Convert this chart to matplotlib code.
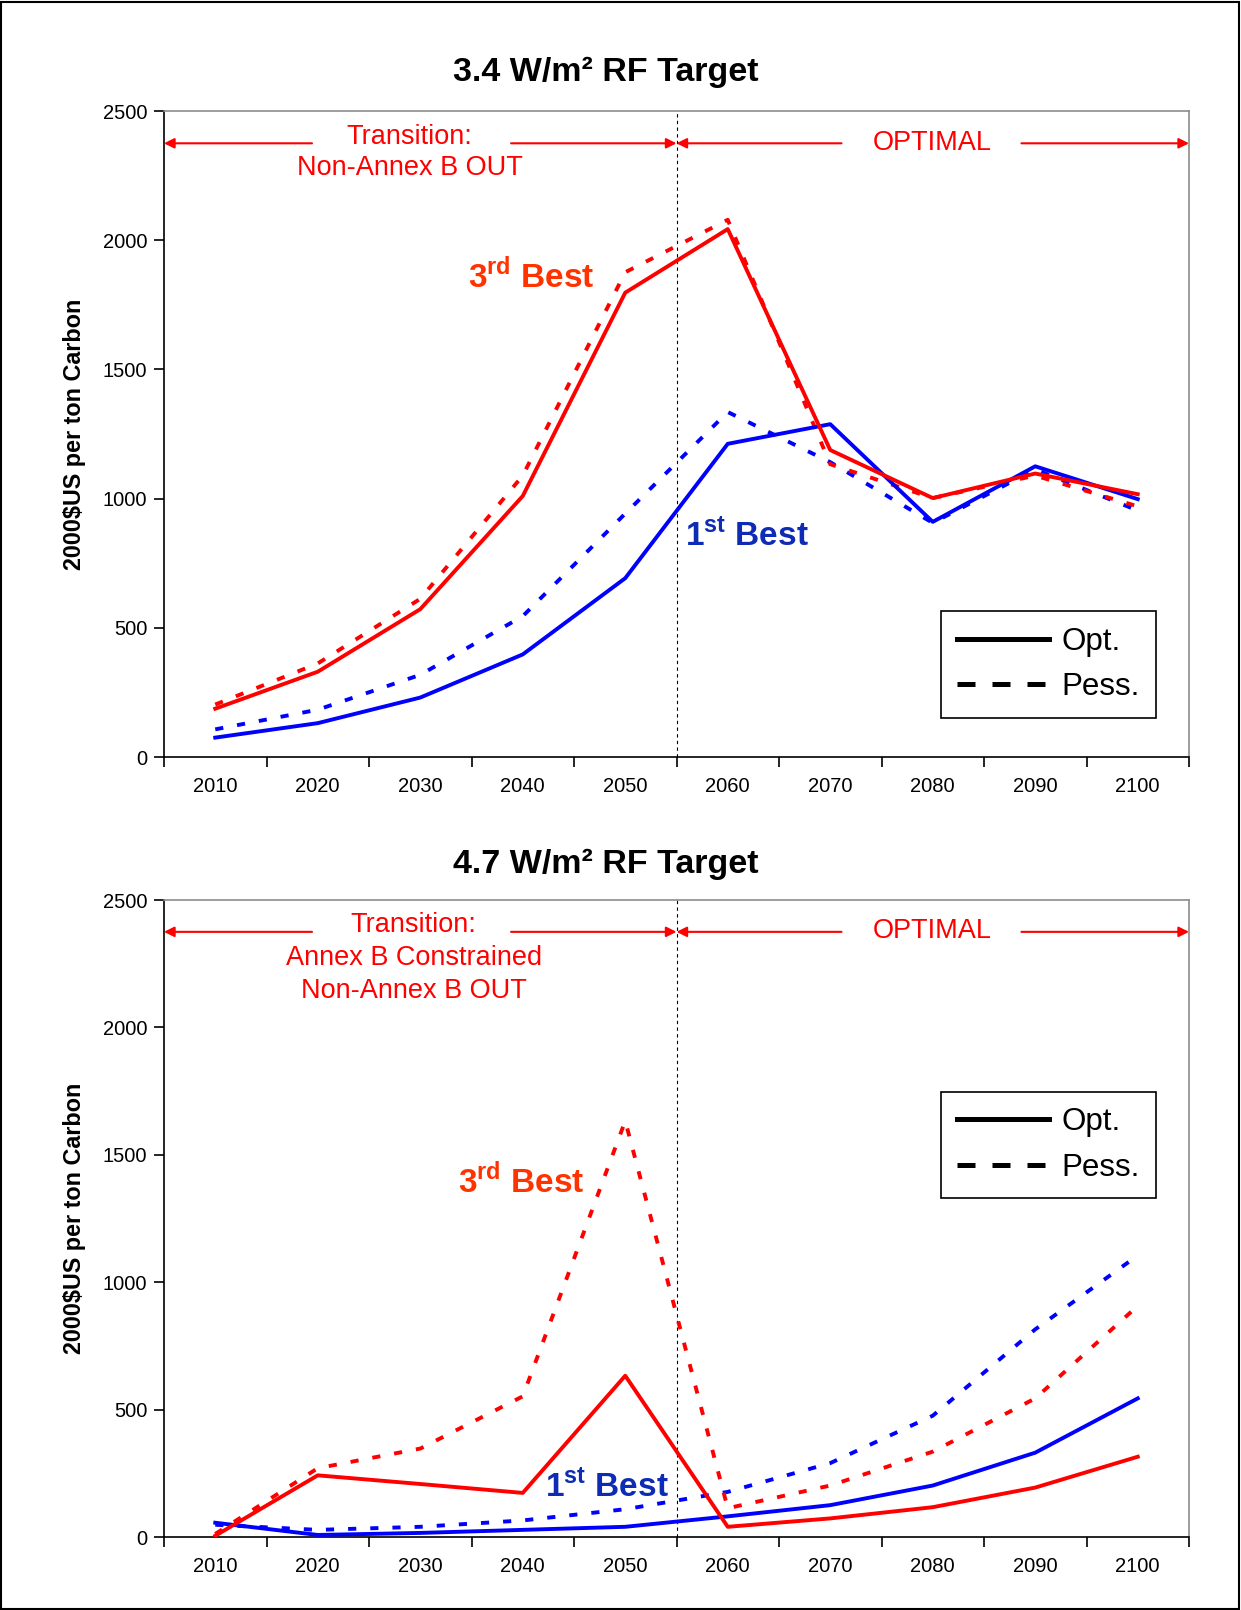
import matplotlib
matplotlib.use('Agg')
import matplotlib.pyplot as plt
from matplotlib.lines import Line2D
from matplotlib.patches import Rectangle

plt.rcParams['font.family'] = ['Liberation Sans', 'DejaVu Sans']
plt.rcParams['mathtext.fontset'] = 'custom'
plt.rcParams['mathtext.rm'] = 'Liberation Sans:bold'
plt.rcParams['mathtext.bf'] = 'Liberation Sans:bold'

# ---------------- data ----------------
years = ['2010', '2020', '2030', '2040', '2050', '2060', '2070', '2080', '2090', '2100']

# Panel 1: 3.4 W/m2 RF target
p1_third_opt = [187, 330, 572, 1010, 1797, 2043, 1188, 1002, 1097, 1017]
p1_third_pess = [203, 362, 612, 1089, 1876, 2079, 1133, 1002, 1089, 970]
p1_first_opt = [75, 131, 230, 397, 692, 1212, 1288, 910, 1125, 998]
p1_first_pess = [107, 183, 318, 545, 942, 1335, 1141, 906, 1113, 954]

# Panel 2: 4.7 W/m2 RF target
p2_third_opt = [5, 242, 208, 173, 633, 40, 73, 117, 194, 315]
p2_third_pess = [12, 270, 347, 552, 1633, 113, 202, 335, 544, 907]
p2_first_opt = [56, 8, 16, 28, 40, 81, 125, 202, 331, 544]
p2_first_pess = [48, 28, 40, 65, 109, 177, 290, 476, 815, 1105]

titles = ['3.4 W/m\u00b2 RF Target', '4.7 W/m\u00b2 RF Target']
transition_texts = [['Transition:', 'Non-Annex B OUT'],
                    ['Transition:', 'Annex B Constrained', 'Non-Annex B OUT']]
ylabel = '2000$US per ton Carbon'
yticks = [0, 500, 1000, 1500, 2000, 2500]

RED = '#FF0000'
BLUE = '#0000FF'
TXT_RED = '#FF3300'
TXT_BLUE = '#0D2BB5'

W, H = 1241, 1610
fig = plt.figure(figsize=(W / 100, H / 100), dpi=100)
fig.patches.append(Rectangle((1.0 / W, 1.0 / H), 1 - 3.0 / W, 1 - 3.0 / H,
                             transform=fig.transFigure, fill=False,
                             lw=1.5, ec='black'))

ax_boxes = [
    (164, 111, 1189, 757),
    (164, 900, 1189, 1537),
]
title_y = [72, 864]
legend_boxes = [(940, 613, 1157, 716), (940, 1093, 1157, 1197)]

def fig_rect(b):
    l, t, r, bt = b
    return [l / W, 1 - bt / H, (r - l) / W, (bt - t) / H]

panels = [
    (p1_third_opt, p1_third_pess, p1_first_opt, p1_first_pess),
    (p2_third_opt, p2_third_pess, p2_first_opt, p2_first_pess),
]
third_pos = [(4.08, 1814), (3.98, 1351)]
first_pos = [(6.185, 820), (4.82, 158)]
trans_pos = [(2.896, [2401, 2278]), (2.936, [2402, 2273, 2144])]

x = list(range(1, len(years) + 1))
LW = 2.8
dash_pat = (2.1, 3.6)

for i, ax_box in enumerate(ax_boxes):
    ax = fig.add_axes(fig_rect(ax_box))
    t_opt, t_pess, f_opt, f_pess = panels[i]
    ax.plot(x, f_pess, color=BLUE, lw=LW, dashes=dash_pat, dash_capstyle='butt', zorder=3)
    ax.plot(x, t_pess, color=RED, lw=LW, dashes=dash_pat, dash_capstyle='butt', zorder=3)
    ax.plot(x, f_opt, color=BLUE, lw=LW, zorder=4)
    ax.plot(x, t_opt, color=RED, lw=LW, zorder=4)

    ax.set_xlim(0.5, len(years) + 0.5)
    ax.set_ylim(0, 2500)
    ax.set_yticks(yticks)
    ax.set_yticklabels([str(v) for v in yticks], fontsize=14.5)
    ax.set_xticks([k + 0.5 for k in range(0, len(years) + 1)])
    ax.set_xticklabels([])
    ax.set_xticks(x, minor=True)
    ax.set_xticklabels(years, minor=True, fontsize=14.5)
    ax.tick_params(axis='x', which='major', direction='out', length=7, width=1.2)
    ax.tick_params(axis='x', which='minor', length=0, pad=14.5)
    ax.tick_params(axis='y', direction='out', length=7, width=1.2, pad=5)
    for s in ['top', 'right']:
        ax.spines[s].set_color('#8c8c8c')
        ax.spines[s].set_linewidth(1.2)
    for s in ['left', 'bottom']:
        ax.spines[s].set_color('#000000')
        ax.spines[s].set_linewidth(1.2)

    ax.set_ylabel(ylabel, fontsize=16.8, fontweight='bold', labelpad=12)

    # vertical divider
    ax.axvline(5.5, color='black', lw=0.8, dashes=(3, 3), zorder=2)

    # arrows
    ay = 2375
    apro = dict(arrowstyle='-|>', color=RED, lw=1.5, mutation_scale=15,
                shrinkA=0, shrinkB=0)
    for (x0, x1) in [(1.944, 0.5), (3.886, 5.5), (7.11, 5.5), (8.865, 10.5)]:
        ax.annotate('', xy=(x1, ay), xytext=(x0, ay), arrowprops=apro,
                    annotation_clip=False)

    tx, tys = trans_pos[i]
    for line, ty in zip(transition_texts[i], tys):
        ax.text(tx, ty, line, color=RED, fontsize=19.5, ha='center', va='center')
    ax.text(8.0, 2377, 'OPTIMAL', color=RED, fontsize=19.5, ha='center', va='center')

    ax.text(third_pos[i][0], third_pos[i][1], r'3$^{\mathrm{rd}}$ Best', color=TXT_RED,
            fontsize=24, fontweight='bold', ha='center', va='baseline', zorder=6)
    ax.text(first_pos[i][0], first_pos[i][1], r'1$^{\mathrm{st}}$ Best', color=TXT_BLUE,
            fontsize=24, fontweight='bold', ha='center', va='baseline', zorder=6)

    handles = [Line2D([], [], color='black', lw=3.6),
               Line2D([], [], color='black', lw=3.6, dashes=(3.6, 3.4),
                      dash_capstyle='butt')]
    lb = legend_boxes[i]
    cx = (lb[0] + lb[2]) / 2 / W
    cy = 1 - (lb[1] + lb[3]) / 2 / H
    leg = fig.legend(handles, ['Opt.', 'Pess.'], loc='center',
                     bbox_to_anchor=(cx, cy), fontsize=22.5, frameon=True,
                     fancybox=False, framealpha=1, edgecolor='black',
                     handlelength=2.95, handletextpad=0.4, borderpad=0.5,
                     labelspacing=0.5)
    leg.get_frame().set_linewidth(1.2)

    fig.text(606 / W, 1 - title_y[i] / H, titles[i], fontsize=24.5,
             fontweight='bold', ha='center', va='center')

fig.savefig('out.png', dpi=100)
